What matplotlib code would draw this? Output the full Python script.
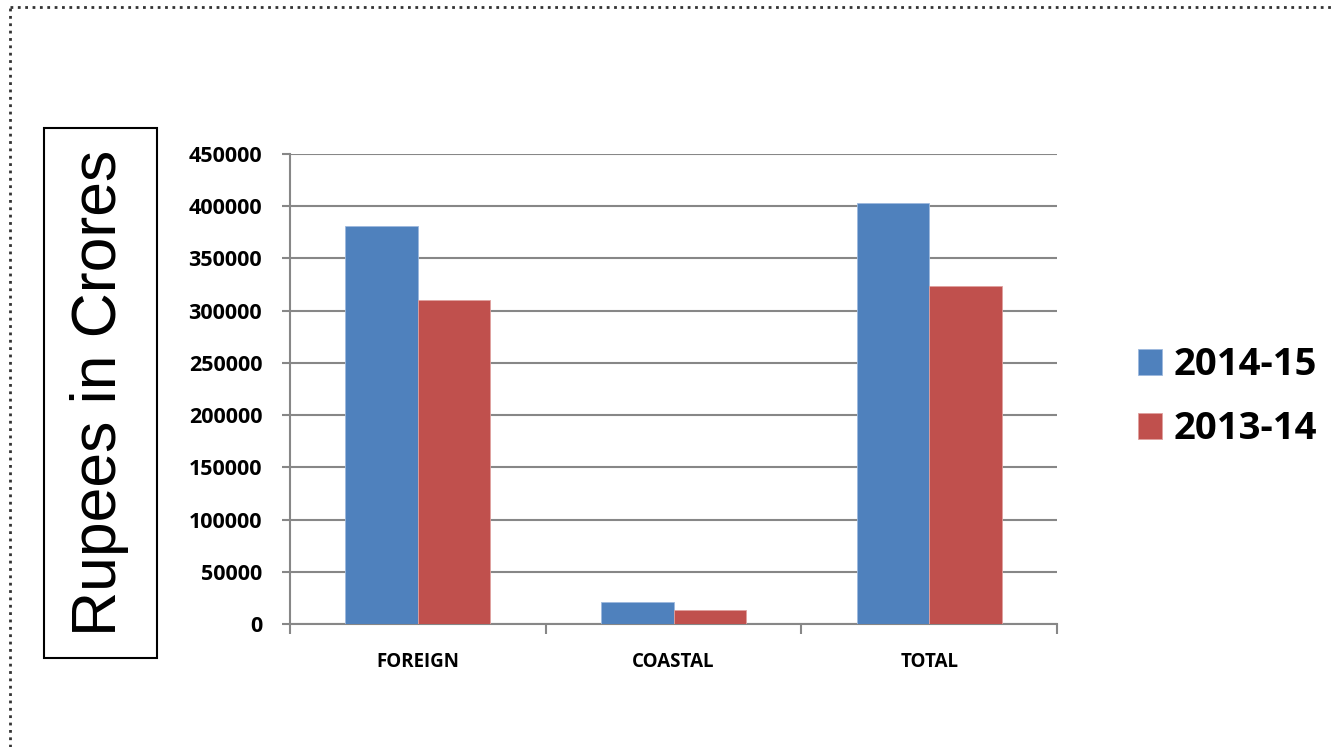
import numpy as np
import matplotlib
matplotlib.use("Agg")
import matplotlib.pyplot as plt
from matplotlib.patches import Rectangle
from matplotlib.lines import Line2D

categories = ["FOREIGN", "COASTAL", "TOTAL"]
series_names = ["2014-15", "2013-14"]
values_2014_15 = [381000, 21000, 403000]
values_2013_14 = [310000, 13700, 324000]
yticks = [0, 50000, 100000, 150000, 200000, 250000, 300000, 350000, 400000, 450000]

blue = "#4F81BD"
red = "#C0504D"
grey = "#878787"

plt.rcParams["font.family"] = ["Open Sans", "DejaVu Sans"]

W, H = 1336, 747
fig = plt.figure(figsize=(W / 100, H / 100), dpi=100)

ax = fig.add_axes([290 / W, (H - 624) / H, 767 / W, 470 / H])

x = np.arange(len(categories))
bw = 0.283
ax.bar(x - bw / 2, values_2014_15, bw, color=blue, edgecolor="#9DB9DD", lw=0.6,
       label=series_names[0], zorder=3)
ax.bar(x + bw / 2, values_2013_14, bw, color=red, edgecolor="#E0A09E", lw=0.6,
       label=series_names[1], zorder=3)

ax.set_xlim(-0.5, 2.5)
ax.set_ylim(0, 450000)
ax.set_yticks(yticks)
ax.set_yticklabels([str(v) for v in yticks], fontsize=15.5, fontweight="bold")
ax.yaxis.grid(True, color=grey, lw=1.5, zorder=0)
ax.set_axisbelow(True)

ax.set_xticks(x)
ax.set_xticklabels(categories, fontsize=13.5, fontweight="bold")
ax.tick_params(axis="x", which="major", length=0, pad=20)
ax.set_xticks([-0.5, 0.5, 1.5, 2.5], minor=True)
ax.tick_params(axis="x", which="minor", length=7, width=1.5, color=grey)
ax.tick_params(axis="y", length=6, width=1.5, color=grey, pad=14)

for side in ["top", "right"]:
    ax.spines[side].set_visible(False)
for side in ["left", "bottom"]:
    ax.spines[side].set_color(grey)
    ax.spines[side].set_linewidth(1.5)

# legend to the right of the plot
ax.legend(loc="center left", bbox_to_anchor=((1138 - 290) / 767, 0.482),
          frameon=False, prop={"size": 27.5, "weight": "bold"},
          handlelength=0.64, handleheight=0.64, handletextpad=0.3,
          labelspacing=0.68, borderaxespad=0, borderpad=0)

# boxed y label
fig.add_artist(Rectangle((44 / W, (H - 658) / H), 113 / W, 530 / H,
                         transform=fig.transFigure, fill=False,
                         edgecolor="black", lw=1.5))
fig.text(100 / W, (H - 393) / H, "Rupees in Crores", rotation=90,
         ha="center", va="center", fontsize=45, family="Liberation Sans")

# dotted page border (top and left)
fig.add_artist(Line2D([10 / W, 1 - 1 / W], [1 - 7 / H, 1 - 7 / H],
                      transform=fig.transFigure, color="#333333", lw=2, ls=":"))
fig.add_artist(Line2D([10 / W, 10 / W], [0, 1 - 7 / H],
                      transform=fig.transFigure, color="#333333", lw=2, ls=":"))

fig.savefig("out.png", dpi=100)
